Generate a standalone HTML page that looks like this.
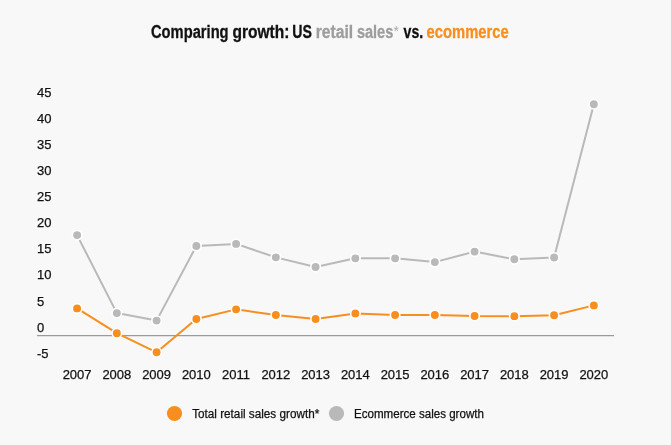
<!DOCTYPE html>
<html><head><meta charset="utf-8"><title>Comparing growth: US retail sales vs. ecommerce</title>
<style>
html,body{margin:0;padding:0;background:#f8f8f8;}
svg{display:block;}
.ax{font-family:"Liberation Sans", sans-serif;font-size:13px;fill:#111;stroke:#111;stroke-width:0.25px;}
.lg{font-family:"Liberation Sans", sans-serif;font-size:12.5px;fill:#111;stroke:#111;stroke-width:0.25px;}
.tt{font-family:"Liberation Sans", sans-serif;font-size:17.6px;font-weight:bold;fill:#111;stroke:#111;stroke-width:0.3px;}
</style></head>
<body>
<svg width="671" height="445" viewBox="0 0 671 445">
<rect width="671" height="445" fill="#f8f8f8"/>
<text x="37" y="96.80" class="ax">45</text>
<text x="37" y="122.80" class="ax">40</text>
<text x="37" y="148.80" class="ax">35</text>
<text x="37" y="174.80" class="ax">30</text>
<text x="37" y="200.80" class="ax">25</text>
<text x="37" y="226.80" class="ax">20</text>
<text x="37" y="252.80" class="ax">15</text>
<text x="37" y="278.80" class="ax">10</text>
<text x="37" y="305.90" class="ax">5</text>
<text x="37" y="331.80" class="ax">0</text>
<text x="37" y="358.00" class="ax">-5</text>
<text x="77.10" y="379.1" class="ax" text-anchor="middle">2007</text>
<text x="116.85" y="379.1" class="ax" text-anchor="middle">2008</text>
<text x="156.60" y="379.1" class="ax" text-anchor="middle">2009</text>
<text x="196.35" y="379.1" class="ax" text-anchor="middle">2010</text>
<text x="236.10" y="379.1" class="ax" text-anchor="middle">2011</text>
<text x="275.85" y="379.1" class="ax" text-anchor="middle">2012</text>
<text x="315.60" y="379.1" class="ax" text-anchor="middle">2013</text>
<text x="355.35" y="379.1" class="ax" text-anchor="middle">2014</text>
<text x="395.10" y="379.1" class="ax" text-anchor="middle">2015</text>
<text x="434.85" y="379.1" class="ax" text-anchor="middle">2016</text>
<text x="474.60" y="379.1" class="ax" text-anchor="middle">2017</text>
<text x="514.35" y="379.1" class="ax" text-anchor="middle">2018</text>
<text x="554.10" y="379.1" class="ax" text-anchor="middle">2019</text>
<text x="593.85" y="379.1" class="ax" text-anchor="middle">2020</text>
<line x1="37" x2="614" y1="335.6" y2="335.6" stroke="#9a9a9a" stroke-width="1.3"/>
<polyline points="77.10,235.10 116.85,313.10 156.60,320.60 196.35,246.00 236.10,243.90 275.85,257.35 315.60,267.00 355.35,258.35 395.10,258.35 434.85,262.10 474.60,251.60 514.35,259.30 554.10,257.50 593.85,104.20" fill="none" stroke="#b9b9b9" stroke-width="2" stroke-linejoin="round"/>
<polyline points="77.10,308.40 116.85,333.20 156.60,352.30 196.35,319.00 236.10,309.35 275.85,315.05 315.60,319.05 355.35,313.40 395.10,315.00 434.85,315.00 474.60,316.05 514.35,316.15 554.10,315.20 593.85,305.40" fill="none" stroke="#f78e1e" stroke-width="2" stroke-linejoin="round"/>
<circle cx="77.10" cy="235.10" r="4.75" fill="#b9b9b9" stroke="#fff" stroke-width="1.6"/>
<circle cx="116.85" cy="313.10" r="4.75" fill="#b9b9b9" stroke="#fff" stroke-width="1.6"/>
<circle cx="156.60" cy="320.60" r="4.75" fill="#b9b9b9" stroke="#fff" stroke-width="1.6"/>
<circle cx="196.35" cy="246.00" r="4.75" fill="#b9b9b9" stroke="#fff" stroke-width="1.6"/>
<circle cx="236.10" cy="243.90" r="4.75" fill="#b9b9b9" stroke="#fff" stroke-width="1.6"/>
<circle cx="275.85" cy="257.35" r="4.75" fill="#b9b9b9" stroke="#fff" stroke-width="1.6"/>
<circle cx="315.60" cy="267.00" r="4.75" fill="#b9b9b9" stroke="#fff" stroke-width="1.6"/>
<circle cx="355.35" cy="258.35" r="4.75" fill="#b9b9b9" stroke="#fff" stroke-width="1.6"/>
<circle cx="395.10" cy="258.35" r="4.75" fill="#b9b9b9" stroke="#fff" stroke-width="1.6"/>
<circle cx="434.85" cy="262.10" r="4.75" fill="#b9b9b9" stroke="#fff" stroke-width="1.6"/>
<circle cx="474.60" cy="251.60" r="4.75" fill="#b9b9b9" stroke="#fff" stroke-width="1.6"/>
<circle cx="514.35" cy="259.30" r="4.75" fill="#b9b9b9" stroke="#fff" stroke-width="1.6"/>
<circle cx="554.10" cy="257.50" r="4.75" fill="#b9b9b9" stroke="#fff" stroke-width="1.6"/>
<circle cx="593.85" cy="104.20" r="4.75" fill="#b9b9b9" stroke="#fff" stroke-width="1.6"/>
<circle cx="77.10" cy="308.40" r="4.75" fill="#f78e1e" stroke="#fff" stroke-width="1.6"/>
<circle cx="116.85" cy="333.20" r="4.75" fill="#f78e1e" stroke="#fff" stroke-width="1.6"/>
<circle cx="156.60" cy="352.30" r="4.75" fill="#f78e1e" stroke="#fff" stroke-width="1.6"/>
<circle cx="196.35" cy="319.00" r="4.75" fill="#f78e1e" stroke="#fff" stroke-width="1.6"/>
<circle cx="236.10" cy="309.35" r="4.75" fill="#f78e1e" stroke="#fff" stroke-width="1.6"/>
<circle cx="275.85" cy="315.05" r="4.75" fill="#f78e1e" stroke="#fff" stroke-width="1.6"/>
<circle cx="315.60" cy="319.05" r="4.75" fill="#f78e1e" stroke="#fff" stroke-width="1.6"/>
<circle cx="355.35" cy="313.40" r="4.75" fill="#f78e1e" stroke="#fff" stroke-width="1.6"/>
<circle cx="395.10" cy="315.00" r="4.75" fill="#f78e1e" stroke="#fff" stroke-width="1.6"/>
<circle cx="434.85" cy="315.00" r="4.75" fill="#f78e1e" stroke="#fff" stroke-width="1.6"/>
<circle cx="474.60" cy="316.05" r="4.75" fill="#f78e1e" stroke="#fff" stroke-width="1.6"/>
<circle cx="514.35" cy="316.15" r="4.75" fill="#f78e1e" stroke="#fff" stroke-width="1.6"/>
<circle cx="554.10" cy="315.20" r="4.75" fill="#f78e1e" stroke="#fff" stroke-width="1.6"/>
<circle cx="593.85" cy="305.40" r="4.75" fill="#f78e1e" stroke="#fff" stroke-width="1.6"/>
<circle cx="174.5" cy="413.5" r="7.6" fill="#f78e1e"/>
<text x="192.14" y="417.7" class="lg" textLength="127.14" lengthAdjust="spacingAndGlyphs">Total retail sales growth*</text>
<circle cx="336.5" cy="413.5" r="7.6" fill="#b9b9b9"/>
<text x="353.95" y="417.7" class="lg" textLength="130.00" lengthAdjust="spacingAndGlyphs">Ecommerce sales growth</text>
<text x="151.00" y="37.9" class="tt" textLength="77.59" lengthAdjust="spacingAndGlyphs">Comparing</text>
<text x="232.46" y="37.9" class="tt" textLength="56.93" lengthAdjust="spacingAndGlyphs">growth:</text>
<text x="292.25" y="37.9" class="tt" textLength="19.60" lengthAdjust="spacingAndGlyphs">US</text>
<text x="315.67" y="37.9" class="tt" textLength="37.44" lengthAdjust="spacingAndGlyphs" style="fill:#9d9d9d;stroke:#9d9d9d">retail</text>
<text x="356.89" y="37.9" class="tt" textLength="36.41" lengthAdjust="spacingAndGlyphs" style="fill:#9d9d9d;stroke:#9d9d9d">sales</text>
<text x="393.4" y="35.6" font-family="Liberation Sans, sans-serif" font-size="14" fill="#aaaaaa">*</text>
<text x="403.54" y="37.9" class="tt" textLength="19.63" lengthAdjust="spacingAndGlyphs">vs.</text>
<text x="426.62" y="37.9" class="tt" textLength="82.08" lengthAdjust="spacingAndGlyphs" style="fill:#f78e1e;stroke:#f78e1e">ecommerce</text>
</svg>
</body></html>
